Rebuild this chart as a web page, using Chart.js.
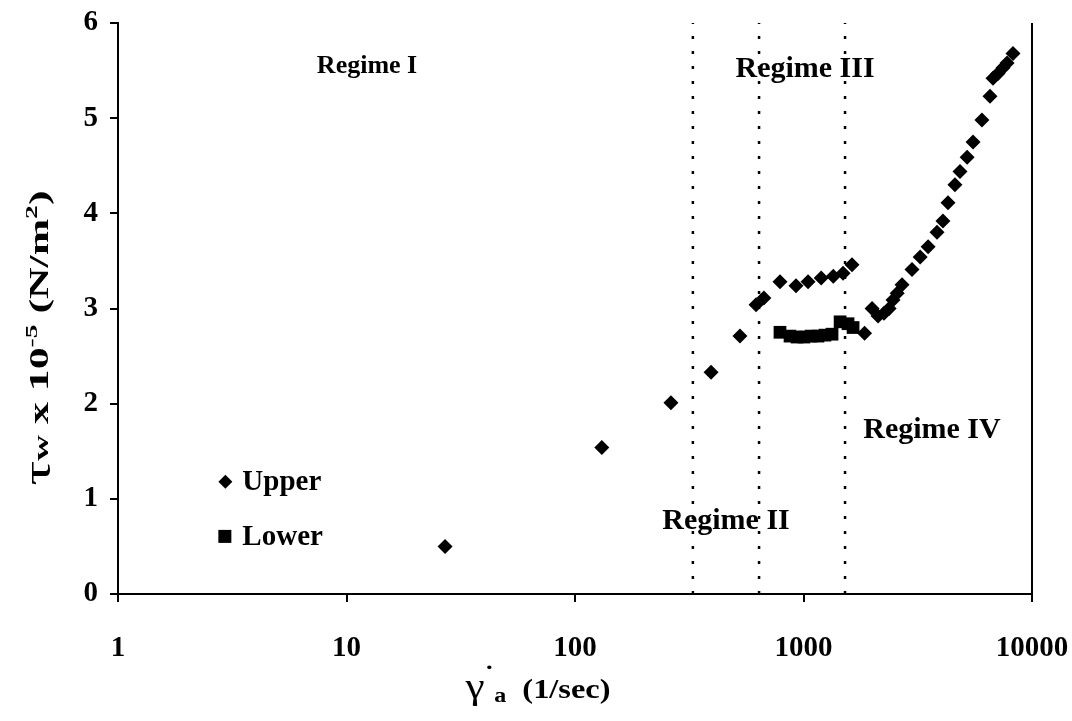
<!DOCTYPE html>
<html>
<head>
<meta charset="utf-8">
<script src="https://cdn.jsdelivr.net/npm/chart.js@4.4.1/dist/chart.umd.min.js"></script>
<style>
  html, body { margin: 0; background: #fff; }
</style>
</head>
<body>
<canvas id="chart" width="1072" height="721"></canvas>
<script>
// shear rate (1/sec) and wall shear stress (x 1e-5 N/m2)
const upperX = [27, 131, 263, 394, 527, 620, 671, 789, 927, 1047, 1195, 1350, 1490, 1630,
  1850, 1995, 2120, 2250, 2370, 2465, 2570, 2700, 2985, 3240, 3510, 3840, 4075, 4290,
  4600, 4840, 5200, 5520, 6040, 6550, 6750, 7100, 7470, 7780, 8260];
const upperY = [0.50, 1.54, 2.01, 2.33, 2.71, 3.04, 3.11, 3.28, 3.24, 3.28, 3.32, 3.34, 3.37, 3.46,
  2.74, 3.00, 2.92, 2.95, 3.00, 3.09, 3.16, 3.25, 3.41, 3.54, 3.65, 3.80, 3.92, 4.11,
  4.30, 4.44, 4.59, 4.75, 4.98, 5.23, 5.42, 5.47, 5.53, 5.58, 5.68];
const lowerX = [789, 873, 937, 1005, 1078, 1157, 1241, 1333, 1446, 1566, 1648];
const lowerY = [2.75, 2.71, 2.70, 2.70, 2.71, 2.71, 2.72, 2.73, 2.86, 2.84, 2.80];

const seriesNames = ['Upper', 'Lower'];
const regimeBounds = [328, 639, 1520];
const regimeLabels = ['Regime I', 'Regime II', 'Regime III', 'Regime IV'];
const regimeLabelX = [12.3, 458, 1016, 3650];
const regimeLabelY = [5.54, 0.76, 5.51, 1.72];
const regimeFontSize = [26, 30, 30, 30];
const legendX = 2.95;
const legendY = [1.18, 0.60];
const xTicks = [1, 10, 100, 1000, 10000];
const yTicks = [0, 1, 2, 3, 4, 5, 6];

const serif = '"Liberation Serif", "DejaVu Serif", serif';

const toPoints = (xs, ys) => xs.map((x, i) => ({ x: x, y: ys[i] }));

const regimeLines = regimeBounds.map(b => ({
  data: [{ x: b, y: yTicks[0] }, { x: b, y: yTicks[yTicks.length - 1] }],
  showLine: true,
  borderColor: '#000',
  borderWidth: 2.5,
  borderDash: [3, 12],
  pointRadius: 0
}));

// draws a run of text pieces centred on 0, each with its own font and baseline shift,
// stretched along the reading direction by `stretch`
function drawRich(ctx, parts, stretch) {
  let total = 0;
  parts.forEach(p => { ctx.font = p.font; total += ctx.measureText(p.text).width; });
  ctx.save();
  ctx.scale(stretch, 1);
  let x = -total / 2;
  ctx.textAlign = 'left';
  ctx.textBaseline = 'alphabetic';
  parts.forEach(p => {
    ctx.font = p.font;
    ctx.fillText(p.text, x, p.dy || 0);
    x += ctx.measureText(p.text).width;
  });
  ctx.restore();
}

const extras = {
  id: 'extras',
  afterDraw(chart) {
    const ctx = chart.ctx;
    const a = chart.chartArea;
    const sx = chart.scales.x, sy = chart.scales.y;
    ctx.save();
    ctx.fillStyle = '#000';
    ctx.strokeStyle = '#000';

    // right frame line
    ctx.lineWidth = 2;
    ctx.beginPath();
    ctx.moveTo(a.right, a.top);
    ctx.lineTo(a.right, a.bottom);
    ctx.stroke();

    // regime labels
    ctx.textAlign = 'center';
    ctx.textBaseline = 'middle';
    regimeLabels.forEach((t, i) => {
      ctx.font = 'bold ' + regimeFontSize[i] + 'px ' + serif;
      ctx.fillText(t, sx.getPixelForValue(regimeLabelX[i]), sy.getPixelForValue(regimeLabelY[i]));
    });

    // legend
    const lx = sx.getPixelForValue(legendX);
    ctx.font = 'bold 29px ' + serif;
    ctx.textAlign = 'left';
    seriesNames.forEach((name, i) => {
      const ly = sy.getPixelForValue(legendY[i]);
      ctx.beginPath();
      if (i === 0) {
        ctx.moveTo(lx - 7, ly); ctx.lineTo(lx, ly - 7); ctx.lineTo(lx + 7, ly); ctx.lineTo(lx, ly + 7);
        ctx.closePath();
        ctx.fill();
      } else {
        ctx.fillRect(lx - 7, ly - 7, 13, 13);
      }
      ctx.fillText(name, lx + 17, ly + 1);
    });

    // x axis title
    ctx.save();
    ctx.translate(538, 698);
    drawRich(ctx, [
      { text: 'γ', font: '36px ' + serif },
      { text: '˙', font: 'bold 24px ' + serif, dy: -16 },
      { text: 'a', font: 'bold 20px ' + serif, dy: 4 },
      { text: '  (1/sec)', font: 'bold 27px ' + serif }
    ], 1.2);
    ctx.restore();

    // y axis title
    ctx.save();
    ctx.translate(48, 338);
    ctx.rotate(-Math.PI / 2);
    drawRich(ctx, [
      { text: 'τ', font: '38px ' + serif, dy: 2 },
      { text: 'w', font: 'bold 22px ' + serif, dy: 0 },
      { text: ' x 10', font: 'bold 27px ' + serif },
      { text: '-5', font: 'bold 17px ' + serif, dy: -11 },
      { text: ' (N/m', font: 'bold 27px ' + serif },
      { text: '2', font: 'bold 17px ' + serif, dy: -11 },
      { text: ')', font: 'bold 27px ' + serif }
    ], 1.62);
    ctx.restore();

    ctx.restore();
  }
};

const axisGrid = {
  drawOnChartArea: false,
  drawTicks: true,
  tickLength: 8,
  color: '#000',
  lineWidth: 2
};

const chart = new Chart(document.getElementById('chart'), {
  type: 'scatter',
  data: {
    datasets: [
      {
        label: seriesNames[0],
        data: toPoints(upperX, upperY),
        pointStyle: 'rectRot',
        pointRadius: 7.5,
        backgroundColor: '#000',
        borderColor: '#000',
        borderWidth: 0
      },
      {
        label: seriesNames[1],
        data: toPoints(lowerX, lowerY),
        pointStyle: 'rect',
        pointRadius: 9,
        backgroundColor: '#000',
        borderColor: '#000',
        borderWidth: 0
      },
      ...regimeLines
    ]
  },
  options: {
    responsive: false,
    animation: false,
    devicePixelRatio: 1,
    layout: { padding: { top: 23, right: 40, left: 0, bottom: 0 } },
    plugins: {
      legend: { display: false },
      tooltip: { enabled: false }
    },
    scales: {
      x: {
        type: 'logarithmic',
        min: xTicks[0],
        max: xTicks[xTicks.length - 1],
        afterBuildTicks: s => { s.ticks = xTicks.map(v => ({ value: v })); },
        afterFit: s => { s.height = 127; s.paddingLeft = 0; s.paddingRight = 0; },
        ticks: {
          color: '#000',
          padding: 29,
          maxRotation: 0,
          font: { family: serif, size: 29, weight: 'bold' },
          callback: v => String(v)
        },
        grid: axisGrid,
        border: { display: true, color: '#000', width: 2 }
      },
      y: {
        min: yTicks[0],
        max: yTicks[yTicks.length - 1],
        afterBuildTicks: s => { s.ticks = yTicks.map(v => ({ value: v })); },
        afterFit: s => { s.width = 118; s.paddingTop = 0; s.paddingBottom = 0; },
        ticks: {
          color: '#000',
          padding: 12,
          font: { family: serif, size: 29, weight: 'bold' }
        },
        grid: axisGrid,
        border: { display: true, color: '#000', width: 2 }
      }
    }
  },
  plugins: [extras]
});
</script>
</body>
</html>
